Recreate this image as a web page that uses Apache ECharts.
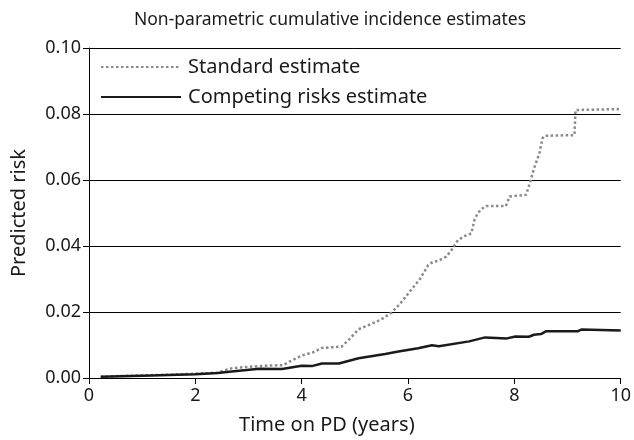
<!DOCTYPE html>
<html>
<head>
<meta charset="utf-8">
<script src="https://cdn.jsdelivr.net/npm/echarts@6/dist/echarts.min.js"></script>
<style>html,body{margin:0;padding:0;background:#fff}#c{width:634px;height:440px}</style>
</head>
<body>
<div id="c"></div>
<script>
const titleText = 'Non-parametric cumulative incidence estimates';
const seriesNames = ['Standard estimate', 'Competing risks estimate'];
const xTicks = [0, 2, 4, 6, 8, 10];
const yTicks = [0.00, 0.02, 0.04, 0.06, 0.08, 0.10];

const stdTime = [0.22, 0.8, 1.5, 2.0, 2.42, 2.6, 2.7, 3.0, 3.3, 3.65, 3.8, 4.0, 4.2, 4.38, 4.75, 4.9, 5.07, 5.3, 5.5, 5.69, 5.85, 6.06, 6.22, 6.38, 6.47, 6.57, 6.72, 6.82, 6.94, 7.1, 7.19, 7.25, 7.31, 7.38, 7.47, 7.84, 7.91, 8.22, 8.28, 8.38, 8.47, 8.53, 8.57, 9.13, 9.15, 10.0];
const stdRisk = [0.0004, 0.0007, 0.001, 0.0013, 0.0016, 0.0026, 0.003, 0.0034, 0.0037, 0.0039, 0.0052, 0.0068, 0.0077, 0.0091, 0.0095, 0.0118, 0.0148, 0.0163, 0.0178, 0.0198, 0.0225, 0.0267, 0.0299, 0.0342, 0.0352, 0.0355, 0.0368, 0.0388, 0.0418, 0.0433, 0.0438, 0.0479, 0.0499, 0.0512, 0.0521, 0.0521, 0.055, 0.0555, 0.0585, 0.064, 0.068, 0.0727, 0.0734, 0.0736, 0.0812, 0.0815];

const crTime = [0.22, 1.0, 2.0, 2.42, 2.64, 3.2, 3.63, 4.0, 4.19, 4.38, 4.7, 5.07, 5.57, 5.82, 6.19, 6.45, 6.58, 7.15, 7.45, 7.86, 8.02, 8.27, 8.37, 8.5, 8.6, 9.2, 9.26, 10.0];
const crRisk = [0.0004, 0.0007, 0.0011, 0.0015, 0.0019, 0.0028, 0.0027, 0.0037, 0.0036, 0.0044, 0.0044, 0.006, 0.0073, 0.008, 0.009, 0.0099, 0.0096, 0.0111, 0.0123, 0.012, 0.0126, 0.0125, 0.0131, 0.0133, 0.0142, 0.0142, 0.0147, 0.0144];

const pairs = (xs, ys) => xs.map((x, i) => [x, ys[i]]);
const FONT = 'Noto Sans';
const TXT = '#1a1a1a';

const chart = echarts.init(document.getElementById('c'), null, {renderer: 'canvas'});
chart.setOption({
  animation: false,
  backgroundColor: '#fff',
  title: {
    text: titleText, left: 325, textAlign: 'center', top: 6,
    textStyle: {fontFamily: FONT, fontSize: 17.5, fontWeight: 'normal', color: TXT}
  },
  legend: {
    orient: 'vertical', left: 95, top: 52, itemWidth: 80, itemHeight: 14, itemGap: 10,
    itemStyle: {opacity: 0},
    textStyle: {fontFamily: FONT, fontSize: 20, color: TXT, padding: [0, 0, 0, 2]},
    data: seriesNames
  },
  grid: {left: 89, right: 11, top: 48, bottom: 62, containLabel: false},
  xAxis: {
    type: 'value', min: xTicks[0], max: xTicks[xTicks.length - 1], interval: 2,
    name: 'Time on PD (years)', nameLocation: 'middle', nameGap: 37,
    nameTextStyle: {fontFamily: FONT, fontSize: 20, color: TXT, padding: [0, 56, 0, 0]},
    axisLine: {show: true, lineStyle: {color: '#000', width: 1}},
    axisTick: {show: true, inside: false, length: 6, lineStyle: {color: '#000'}},
    axisLabel: {fontFamily: FONT, fontSize: 18, color: TXT, margin: 9},
    splitLine: {show: false}
  },
  yAxis: {
    type: 'value', min: yTicks[0], max: yTicks[yTicks.length - 1], interval: 0.02,
    name: 'Predicted risk', nameLocation: 'middle', nameGap: 60, nameRotate: 90,
    nameTextStyle: {fontFamily: FONT, fontSize: 20, color: TXT},
    axisLine: {show: true, lineStyle: {color: '#000', width: 1}},
    axisTick: {show: true, inside: false, length: 6, lineStyle: {color: '#000'}},
    axisLabel: {fontFamily: FONT, fontSize: 18, color: TXT, margin: 8, formatter: v => v.toFixed(2)},
    splitLine: {show: true, lineStyle: {color: '#000', width: 1}}
  },
  series: [
    {
      name: seriesNames[0], type: 'line', data: pairs(stdTime, stdRisk),
      symbol: 'none', showSymbol: false,
      lineStyle: {color: '#8a8a8a', width: 2.5, type: [2.5, 2.5]},
      itemStyle: {color: '#8a8a8a'}, z: 3
    },
    {
      name: seriesNames[1], type: 'line', data: pairs(crTime, crRisk),
      symbol: 'none', showSymbol: false,
      lineStyle: {color: '#1a1a1a', width: 2.5, type: 'solid'},
      itemStyle: {color: '#1a1a1a'}, z: 4
    }
  ]
});
</script>
</body>
</html>
